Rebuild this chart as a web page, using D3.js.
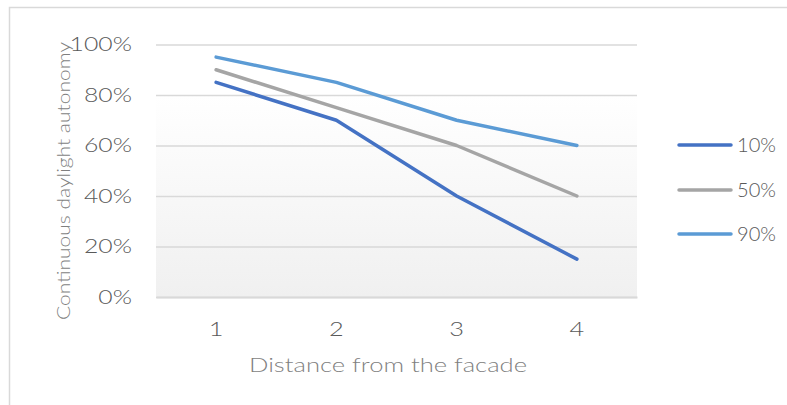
<!DOCTYPE html>
<html><head><meta charset="utf-8">
<script src="https://cdn.jsdelivr.net/npm/d3@7"></script>
<style>body{margin:0;background:#fff}svg{display:block}text{font-family:"Lato","Open Sans",sans-serif;font-weight:300}</style>
</head><body><svg id="c" width="787" height="405"></svg>
<script>
const categories = ["1","2","3","4"];
const seriesNames = ["10%","50%","90%"];
const s10 = [0.85,0.70,0.40,0.15];
const s50 = [0.90,0.75,0.60,0.40];
const s90 = [0.95,0.85,0.70,0.60];
const yTicks = [0,0.2,0.4,0.6,0.8,1.0];
const colors = ["#4472C4","#A5A5A5","#5B9BD5"];
const series = [s10,s50,s90];

const svg = d3.select("#c");
svg.append("rect").attr("x",9.5).attr("y",7.5).attr("width",800).attr("height",420)
  .attr("fill","#fff").attr("stroke","#d9d9d9").attr("stroke-width",1.5);

const L=156,R=637,T=44.5,B=297;
const x = d3.scaleBand().domain(categories).range([L,R]);
const y = d3.scaleLinear().domain([0,1]).range([B,T]);

const defs = svg.append("defs");
const g = defs.append("linearGradient").attr("id","bg").attr("x1",0).attr("y1",0).attr("x2",0).attr("y2",1);
g.append("stop").attr("offset","0%").attr("stop-color","#ffffff");
g.append("stop").attr("offset","20%").attr("stop-color","#ffffff");
g.append("stop").attr("offset","100%").attr("stop-color","#f0f0f0");
svg.append("rect").attr("x",L).attr("y",T).attr("width",R-L).attr("height",B-T).attr("fill","url(#bg)");

const widen = sel => sel.each(function(){
  const w = this.getComputedTextLength();
  d3.select(this).attr("textLength", w*1.27).attr("lengthAdjust","spacingAndGlyphs");
});

const ya = d3.axisLeft(y).tickValues(yTicks).tickFormat(d3.format(".0%")).tickSize(-(R-L)).tickPadding(24);
const gy = svg.append("g").attr("transform",`translate(${L},0)`).call(ya);
gy.select(".domain").remove();
gy.selectAll(".tick line").attr("stroke","#d9d9d9").attr("stroke-width",1.5);
gy.selectAll(".tick text").attr("fill","#595959").style("font-size","19.5px").call(widen);

const xa = d3.axisBottom(x).tickSize(0).tickPadding(25);
const gx = svg.append("g").attr("transform",`translate(0,${B})`).call(xa);
gx.select(".domain").attr("stroke","#d9d9d9").attr("stroke-width",2);
gx.selectAll(".tick text").attr("fill","#595959").style("font-size","20px").call(widen);

const line = d3.line().x((d,i)=>x(categories[i])+x.bandwidth()/2).y(d=>y(d));
series.forEach((s,i)=>{
  svg.append("path").attr("d",line(s)).attr("fill","none").attr("stroke",colors[i])
    .attr("stroke-width",3.5).attr("stroke-linecap","round").attr("stroke-linejoin","round");
});

svg.append("text").attr("x",388).attr("y",372).attr("text-anchor","middle")
  .attr("fill","#7f7f7f").style("font-size","20px")
  .attr("textLength",278).attr("lengthAdjust","spacingAndGlyphs").text("Distance from the facade");
svg.append("text").attr("transform","translate(70,181) rotate(-90)").attr("text-anchor","middle")
  .attr("fill","#7f7f7f").style("font-size","18px")
  .attr("textLength",278).attr("lengthAdjust","spacingAndGlyphs").text("Continuous daylight autonomy");

const ly = [145,190,234];
seriesNames.forEach((n,i)=>{
  svg.append("line").attr("x1",679).attr("x2",731).attr("y1",ly[i]).attr("y2",ly[i])
    .attr("stroke",colors[i]).attr("stroke-width",3.5).attr("stroke-linecap","round");
  svg.append("text").attr("x",737).attr("y",ly[i]).attr("dy","0.36em").attr("fill","#595959")
    .style("font-size","20px").text(n).call(sel=>sel.each(function(){
      d3.select(this).attr("textLength",39).attr("lengthAdjust","spacingAndGlyphs");}));
});
</script></body></html>
